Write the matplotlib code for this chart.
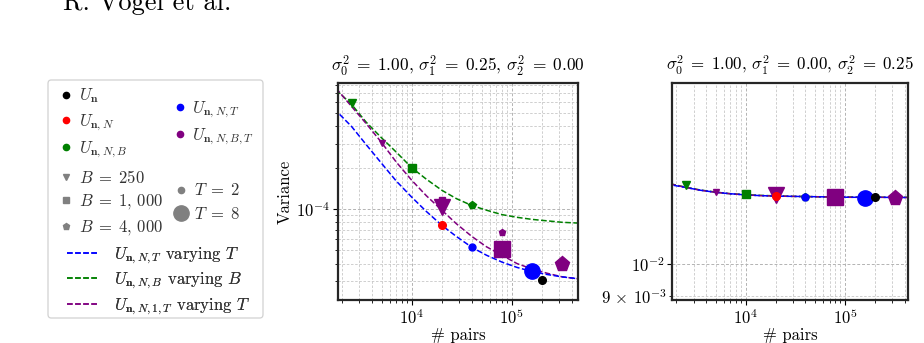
import numpy as np
import matplotlib
matplotlib.use("Agg")
import matplotlib.pyplot as plt
from matplotlib.lines import Line2D
from matplotlib.patches import FancyBboxPatch
from matplotlib.ticker import FixedLocator, FixedFormatter

plt.rcParams['font.family'] = 'serif'
plt.rcParams['font.serif'] = ['cmr10', 'DejaVu Serif']
plt.rcParams['mathtext.fontset'] = 'cm'
plt.rcParams['axes.unicode_minus'] = False
plt.rcParams['axes.formatter.use_mathtext'] = True

# --- data ---
# dashed reference curves (x = # pairs)
curve_x = [1750, 2500, 3500, 5000, 7000, 10000, 14000, 20000, 28000, 40000,
           56000, 80000, 113000, 160000, 226000, 320000, 460000]
blue_x = [1900, 2500, 3500, 5000, 7000, 10000, 14000, 20000, 28000, 40000,
          56000, 80000, 113000, 160000, 226000, 320000, 460000]

left_green = [7.4e-4, 5.8e-4, 4.3e-4, 3.3e-4, 2.6e-4, 2.0e-4, 1.65e-4, 1.37e-4, 1.19e-4,
              1.06e-4, 9.8e-5, 9.1e-5, 8.7e-5, 8.4e-5, 8.2e-5, 8.0e-5, 7.9e-5]
left_purple = [7.6e-4, 5.6e-4, 4.2e-4, 3.05e-4, 2.2e-4, 1.62e-4, 1.25e-4, 9.8e-5, 7.8e-5,
               6.3e-5, 5.3e-5, 4.6e-5, 4.0e-5, 3.65e-5, 3.4e-5, 3.2e-5, 3.1e-5]
left_blue = [4.9e-4, 4.0e-4, 2.95e-4, 2.15e-4, 1.6e-4, 1.22e-4, 9.6e-5, 7.6e-5, 6.3e-5,
             5.25e-5, 4.6e-5, 4.1e-5, 3.75e-5, 3.5e-5, 3.33e-5, 3.2e-5, 3.1e-5]

right_green = [0.01310, 0.01295, 0.01283, 0.01274, 0.01267, 0.01263, 0.01260, 0.01258, 0.01256,
               0.01255, 0.01254, 0.01253, 0.01253, 0.01252, 0.01252, 0.01252, 0.01252]
right_purple = [0.01309, 0.01294, 0.01282, 0.01273, 0.01267, 0.01262, 0.01259, 0.01257, 0.01256,
                0.01255, 0.01254, 0.01253, 0.01252, 0.01252, 0.01252, 0.01251, 0.01251]
right_blue = [0.01303, 0.01294, 0.01282, 0.01273, 0.01267, 0.01262, 0.01259, 0.01257, 0.01256,
              0.01255, 0.01254, 0.01253, 0.01252, 0.01252, 0.01252, 0.01251, 0.01251]

# estimators
un_x = [200000]
un_left = [3.03e-5]
un_right = [0.01252]

unN_x = [20000]
unN_left = [7.6e-5]
unN_right = [0.01258]

unNB_x = [2500, 10000, 40000]
unNB_B = [250, 1000, 4000]
unNB_left = [5.9e-4, 2.0e-4, 1.07e-4]
unNB_right = [0.01305, 0.01266, 0.01254]

unNT_x = [40000, 160000]
unNT_T = [2, 8]
unNT_left = [5.25e-5, 3.55e-5]
unNT_right = [0.01252, 0.01248]

unNBT_x = [5000, 20000, 20000, 80000, 80000, 320000]
unNBT_B = [250, 250, 1000, 1000, 4000, 4000]
unNBT_T = [2, 8, 2, 8, 2, 8]
unNBT_left = [3.05e-4, 1.03e-4, 1.16e-4, 5.1e-5, 6.83e-5, 3.97e-5]
unNBT_right = [0.01276, 0.01262, 0.01260, 0.01252, 0.01253, 0.01250]

titles = [r'$\sigma_0^2\;=\;1.00$, $\sigma_1^2\;=\;0.25$, $\sigma_2^2\;=\;0.00$',
          r'$\sigma_0^2\;=\;1.00$, $\sigma_1^2\;=\;0.00$, $\sigma_2^2\;=\;0.25$']

right_major = [0.01]
right_major_labels = [r'$10^{-2}$']
right_minor = [0.009]
right_minor_labels = [r'$9\,\times\,10^{-3}$']

B_marker = {250: 'v', 1000: 's', 4000: 'p'}
T_size = {1: 5, 2: 5, 8: 11}
W, H = 924, 343


def draw_panel(ax, curves, un_y, unN_y, unNB_y, unNT_y, unNBT_y):
    gy, py, by = curves
    ax.plot(curve_x, gy, ls='--', color='green', lw=1.1, zorder=2)
    ax.plot(curve_x, py, ls='--', color='purple', lw=1.1, zorder=2)
    ax.plot(blue_x, by, ls='--', color='blue', lw=1.1, zorder=2)
    for x, b, y in zip(unNB_x, unNB_B, unNB_y):
        ax.plot(x, y, marker=B_marker[b], color='green', ms=5.5, ls='', zorder=3)
    for x, t, y in zip(unNT_x, unNT_T, unNT_y):
        ax.plot(x, y, marker='o', color='blue', ms=T_size[t], ls='', zorder=3)
    for x, b, t, y in zip(unNBT_x, unNBT_B, unNBT_T, unNBT_y):
        ax.plot(x, y, marker=B_marker[b], color='purple', ms=T_size[t], ls='', zorder=3)
    ax.plot(unN_x, unN_y, marker='o', color='red', ms=5.5, ls='', zorder=4)
    ax.plot(un_x, un_y, marker='o', color='black', ms=5.5, ls='', zorder=4)

    ax.set_xscale('log')
    ax.set_yscale('log')
    ax.grid(which='major', ls=(0, (3, 2)), color='0.7', lw=0.7)
    ax.grid(which='minor', ls=(0, (3, 2)), color='0.78', lw=0.6)
    ax.set_axisbelow(True)
    for s in ax.spines.values():
        s.set_linewidth(1.6)
        s.set_color('0.15')
    ax.tick_params(which='major', direction='out', length=3.5, width=0.8, labelsize=12, pad=2)
    ax.tick_params(which='minor', direction='out', length=2, width=0.6, labelsize=12, pad=2)
    ax.set_xlabel('# pairs', fontsize=12, labelpad=0)


fig = plt.figure(figsize=(W / 100, H / 100), dpi=100)

ax1 = fig.add_axes([338 / W, 1 - 300 / H, 240 / W, 217 / H])
draw_panel(ax1, (left_green, left_purple, left_blue),
           un_left, unN_left, unNB_left, unNT_left, unNBT_left)
ax1.set_xlim(1830, 4.6e5)
ax1.set_ylim(2.17e-5, 8.3e-4)
ax1.set_ylabel('Variance', fontsize=12, labelpad=3)
ax1.set_title(titles[0], fontsize=12.5, pad=9)

ax2 = fig.add_axes([672 / W, 1 - 300 / H, 236 / W, 217 / H])
draw_panel(ax2, (right_green, right_purple, right_blue),
           un_right, unN_right, unNB_right, unNT_right, unNBT_right)
ax2.set_xlim(1820, 4.3e5)
ax2.set_ylim(0.00887, 0.01837)
ax2.yaxis.set_major_locator(FixedLocator(right_major))
ax2.yaxis.set_minor_locator(FixedLocator(right_minor))
ax2.yaxis.set_major_formatter(FixedFormatter(right_major_labels))
ax2.yaxis.set_minor_formatter(FixedFormatter(right_minor_labels))
ax2.set_title(titles[1], fontsize=12.2, pad=9)

# header from the page
fig.text(63 / W, 1 - 10 / H, 'R. Vogel et al.', fontsize=19, va='baseline', ha='left')

# legend box
lax = fig.add_axes([48 / W, 1 - 318 / H, 215 / W, 238 / H])
lax.axis('off')
lax.add_patch(FancyBboxPatch((0, 0), 1, 1, boxstyle='round,pad=0,rounding_size=0.015',
                             transform=lax.transAxes, fc='white', ec='0.82', lw=0.9,
                             clip_on=False))

txtc = '0.2'


def sub_legend(handles, labels, x, y, hl=1.0, htp=0.25, ls=0.4):
    leg = lax.legend(handles, labels, loc='upper left', bbox_to_anchor=(x, y),
                     frameon=False, fontsize=12, handlelength=hl, handletextpad=htp,
                     labelspacing=ls, borderpad=0, borderaxespad=0, labelcolor=txtc)
    lax.add_artist(leg)
    return leg


def mk(marker, color, ms):
    return Line2D([], [], marker=marker, color=color, ms=ms, ls='')


sub_legend([mk('o', 'black', 4.5), mk('o', 'red', 4.5), mk('o', 'green', 4.5)],
           [r'$U_{\mathbf{n}}$', r'$U_{\mathbf{n},N}$', r'$U_{\mathbf{n},N,B}$'],
           0.045, 0.972)
sub_legend([mk('o', 'blue', 4.5), mk('o', 'purple', 4.5)],
           [r'$U_{\mathbf{n},N,T}$', r'$U_{\mathbf{n},N,B,T}$'],
           0.575, 0.919)
sub_legend([mk(B_marker[b], 'gray', 4.5) for b in unNB_B],
           [r'$B\;=\;250$', r'$B\;=\;1,\,000$', r'$B\;=\;4,\,000$'],
           0.045, 0.627)
sub_legend([mk('o', 'gray', 4.5), mk('o', 'gray', 11)],
           [r'$T\;=\;2$', r'$T\;=\;8$'],
           0.58, 0.57, ls=0.45)
sub_legend([Line2D([], [], ls='--', color=c, lw=1.1) for c in ['blue', 'green', 'purple']],
           [r'$U_{\mathbf{n},N,T}$ varying $T$', r'$U_{\mathbf{n},N,B}$ varying $B$',
            r'$U_{\mathbf{n},N,1,T}$ varying $T$'],
           0.088, 0.305, hl=1.9, htp=0.95, ls=0.3)

fig.savefig('out.png', dpi=100)
